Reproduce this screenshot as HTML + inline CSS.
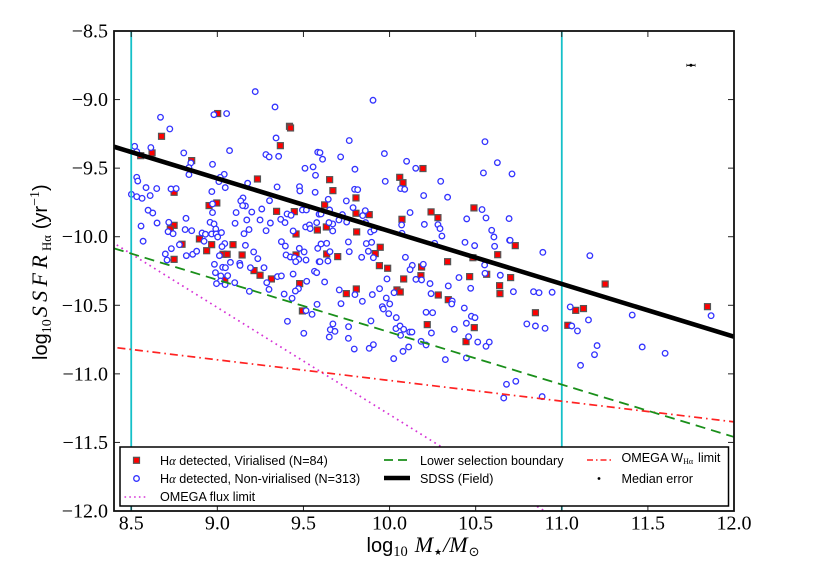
<!DOCTYPE html>
<html>
<head>
<meta charset="utf-8">
<style>
html,body{margin:0;padding:0;background:#fff;width:827px;height:582px;overflow:hidden}
svg{display:block;filter:blur(0.3px)}
.tick{font-family:"Liberation Serif",serif;font-size:20px;fill:#000}
.leg{font-family:"Liberation Sans",sans-serif;font-size:12.6px;fill:#000}
.sans{font-family:"Liberation Sans",sans-serif}
.ser{font-family:"Liberation Serif","DejaVu Serif",serif}
</style>
</head>
<body>
<svg id="chart" xmlns="http://www.w3.org/2000/svg" width="827" height="582" viewBox="0 0 827 582">
<g id="marks-squares"></g>
<g id="marks-circles"></g>
<g id="lines"></g>
<g id="axes"></g>
<g id="legend">
  <rect x="120" y="447" width="608.5" height="59" fill="#fff" stroke="#000" stroke-width="1.5"/>
  <g>
    <rect x="133.5" y="457.3" width="6" height="6" fill="#f00" stroke="#555" stroke-width="1.2"/>
    <text class="leg" x="160" y="465">H<tspan class="ser" font-style="italic">α</tspan> detected, Virialised (N=84)</text>
  </g>
  <g>
    <circle cx="136.5" cy="478.5" r="2.8" fill="#fff" stroke="#3333ff" stroke-width="1.3"/>
    <text class="leg" x="160" y="483">H<tspan class="ser" font-style="italic">α</tspan> detected, Non-virialised (N=313)</text>
  </g>
  <g>
    <line x1="124.5" y1="497" x2="148" y2="497" stroke="#d633d6" stroke-width="1.6" stroke-dasharray="1.6 3.2"/>
    <text class="leg" x="160" y="501">OMEGA flux limit</text>
  </g>
  <g>
    <line x1="384" y1="460" x2="410" y2="460" stroke="#1a8f1a" stroke-width="1.8" stroke-dasharray="9 5"/>
    <text class="leg" x="420" y="465">Lower selection boundary</text>
  </g>
  <g>
    <line x1="384" y1="478" x2="410" y2="478" stroke="#000" stroke-width="4.5"/>
    <text class="leg" x="420" y="483">SDSS (Field)</text>
  </g>
  <g>
    <line x1="587" y1="460" x2="611" y2="460" stroke="#f22" stroke-width="1.6" stroke-dasharray="6 3 1.5 3"/>
    <text class="leg" x="621.5" y="462">OMEGA W<tspan class="ser" font-size="8" dy="2">Hα</tspan><tspan dy="-2" dx="5">limit</tspan></text>
  </g>
  <g>
    <circle cx="599" cy="478.5" r="1.4" fill="#000"/>
    <text class="leg" x="621.5" y="483">Median error</text>
  </g>
</g>
<text x="366.5" y="552" font-size="20" class="sans">log<tspan class="ser" font-size="14.5" dy="4">10</tspan><tspan class="ser" font-size="22" font-style="italic" dy="-4" dx="7">M</tspan><tspan class="ser" font-size="9" dy="3" dx="1">★</tspan><tspan class="ser" font-size="22" font-style="italic" dy="-3" dx="1">/M</tspan><tspan font-family="DejaVu Sans" font-size="13" dy="4" dx="1">⊙</tspan></text>
<text transform="translate(47,360) rotate(-90)" font-size="20" class="sans">log<tspan class="ser" font-size="14" dy="4">10</tspan><tspan class="ser" font-size="22" font-style="italic" dy="-4" dx="2" letter-spacing="4.4">SSFR</tspan><tspan class="ser" font-size="12.5" dy="4">Hα</tspan><tspan dy="-4" dx="6">(yr</tspan><tspan class="ser" font-size="14" dy="-8">−1</tspan><tspan dy="8">)</tspan></text>
</svg>
<script>
const xTicks = [8.5, 9.0, 9.5, 10.0, 10.5, 11.0, 11.5, 12.0];
const xTickLabels = ["8.5", "9.0", "9.5", "10.0", "10.5", "11.0", "11.5", "12.0"];
const yTicks = [-8.5, -9.0, -9.5, -10.0, -10.5, -11.0, -11.5, -12.0];
const yTickLabels = ["−8.5", "−9.0", "−9.5", "−10.0", "−10.5", "−11.0", "−11.5", "−12.0"];
const clusterLimits = [8.5, 11.0];
const sdssMass = [8.4, 12.0];
const sdssSSFR = [-9.344, -10.729];
const boundaryMass = [8.4, 12.0];
const boundarySSFR = [-10.085, -11.46];
const fluxLimitMass = [8.416, 10.9];
const fluxLimitSSFR = [-10.06, -12.0];
const omegaLimitMass = [8.42, 12.0];
const omegaLimitSSFR = [-10.81, -11.35];
const errorMass = [11.75];
const errorSSFR = [-8.75];
const errorMassSize = [0.025];
const virialMass = [
8.676,9.002,9.419,9.425,9.366,8.555,8.621,8.851,9.233,8.749,
8.952,8.997,9.344,9.447,8.749,8.727,8.795,8.896,8.967,8.938,
9.033,9.057,9.091,9.144,8.749,9.213,9.248,9.314,9.043,9.478,
9.457,9.457,9.581,9.494,10.194,10.059,10.078,9.652,9.671,9.805,
9.623,10.490,10.241,10.281,9.805,9.882,10.072,9.633,9.809,9.946,
9.917,9.635,9.699,9.941,9.989,10.186,10.337,10.484,10.628,10.730,
10.182,10.082,10.465,10.564,10.703,10.639,10.641,9.807,9.749,10.043,
10.062,10.283,10.341,10.847,10.219,10.492,10.444,11.252,11.081,11.126,
11.035,11.846
];
const virialSSFR = [
-9.268,-9.102,-9.195,-9.207,-9.336,-9.409,-9.389,-9.445,-9.579,-9.676,
-9.773,-9.754,-9.815,-9.817,-9.917,-9.944,-10.055,-10.016,-10.058,-10.102,
-10.128,-10.128,-10.058,-10.133,-10.165,-10.247,-10.281,-10.308,-10.315,-10.342,
-9.980,-10.133,-9.951,-10.541,-9.503,-9.567,-9.606,-9.584,-9.664,-9.717,
-9.768,-9.790,-9.819,-9.861,-9.829,-9.839,-9.873,-9.929,-9.965,-10.077,
-10.123,-10.126,-10.145,-10.211,-10.230,-10.221,-10.182,-10.153,-10.131,-10.065,
-10.284,-10.308,-10.291,-10.274,-10.298,-10.357,-10.415,-10.381,-10.415,-10.388,
-10.403,-10.425,-10.459,-10.554,-10.641,-10.663,-10.765,-10.345,-10.537,-10.524,
-10.646,-10.510
];
const nonVirialMass = [
9.220,9.335,8.670,8.724,8.980,9.054,9.341,8.520,8.614,8.805,
9.071,9.282,9.301,9.356,9.583,8.532,8.972,8.846,8.835,8.835,
9.040,9.017,9.009,9.509,9.556,9.570,8.532,8.538,8.586,8.648,
8.731,8.761,9.046,9.176,9.347,9.477,9.479,9.568,8.968,8.501,
8.532,8.563,8.610,9.149,9.136,9.163,9.147,8.972,9.303,9.258,
9.200,9.109,8.598,8.625,8.972,8.818,9.405,9.428,9.494,9.517,
9.591,9.171,9.248,9.368,
8.557,8.650,8.718,8.714,8.743,8.569,8.813,8.851,8.958,8.981,
8.991,9.103,9.308,9.393,9.283,9.184,9.155,9.440,9.513,9.535,
9.539,9.577,8.911,8.931,8.967,8.993,9.024,9.002,8.923,8.780,
9.043,9.027,9.163,9.372,9.395,9.476,9.504,9.583,8.733,8.698,
8.708,8.820,8.857,8.880,9.012,9.211,9.235,9.399,9.424,9.448,
9.473,9.455,9.515,9.591,8.983,9.076,9.130,9.132,9.031,9.047,
9.192,9.271,8.989,9.020,9.060,9.018,8.995,9.045,9.101,9.287,
9.186,9.300,9.349,9.372,9.440,9.564,9.577,9.519,9.471,9.453,
9.388,9.434,9.579,9.515,9.550,9.407,9.502,
9.904,9.766,10.554,9.970,9.611,9.596,9.716,10.099,10.152,10.626,
10.545,10.711,9.799,9.975,10.297,9.797,9.815,10.064,10.088,10.198,
10.337,9.644,9.749,9.788,9.859,9.844,9.652,9.726,9.602,10.119,
10.537,10.448,10.560,10.694,
9.670,9.648,9.670,9.706,9.751,9.861,9.890,9.910,10.070,10.072,
10.202,10.281,10.293,10.304,10.262,10.438,10.494,10.593,10.606,10.610,
10.697,9.761,9.766,9.635,9.602,9.654,9.642,9.596,9.865,9.896,
9.877,9.838,9.906,10.092,10.132,10.119,10.196,10.552,10.554,10.643,
10.403,9.985,10.153,10.186,10.235,10.341,10.471,9.623,9.708,9.799,
9.942,9.900,10.026,10.241,9.718,9.842,9.981,10.001,9.958,9.964,
9.995,10.364,10.361,10.434,10.212,10.250,10.039,10.475,10.496,10.446,
9.892,9.762,9.671,9.656,9.683,9.650,9.761,9.795,9.882,9.906,
10.037,10.061,10.082,10.117,10.130,10.064,10.243,10.376,10.459,10.183,
10.212,10.111,10.078,10.024,10.324,10.446,10.512,10.560,10.579,
10.700,10.890,11.163,10.719,10.836,10.868,10.944,11.049,11.155,11.409,
11.867,10.797,10.847,10.903,11.058,11.091,11.205,11.190,11.467,11.600,
11.109,10.679,10.733,10.663,10.886
];
const nonVirialSSFR = [
-8.942,-9.054,-9.129,-9.214,-9.110,-9.102,-9.280,-9.341,-9.350,-9.389,
-9.372,-9.401,-9.418,-9.414,-9.384,-9.380,-9.472,-9.462,-9.496,-9.547,
-9.545,-9.567,-9.598,-9.501,-9.491,-9.552,-9.567,-9.594,-9.642,-9.649,
-9.652,-9.649,-9.642,-9.610,-9.637,-9.635,-9.666,-9.676,-9.671,-9.691,
-9.708,-9.720,-9.700,-9.717,-9.739,-9.776,-9.773,-9.761,-9.737,-9.798,
-9.820,-9.824,-9.807,-9.827,-9.824,-9.866,-9.834,-9.844,-9.805,-9.805,
-9.836,-9.878,-9.878,-9.873,
-9.922,-9.900,-9.895,-9.963,-9.978,-10.033,-9.948,-9.956,-9.895,-9.907,
-9.944,-9.902,-9.900,-9.897,-9.956,-9.948,-9.978,-9.958,-9.929,-9.914,
-9.941,-9.897,-9.973,-9.982,-9.980,-9.980,-9.970,-10.002,-10.033,-10.058,
-10.050,-10.072,-10.063,-10.036,-10.068,-10.085,-10.111,-10.085,-10.087,-10.126,
-10.170,-10.138,-10.128,-10.106,-10.138,-10.111,-10.160,-10.133,-10.148,-10.153,
-10.165,-10.182,-10.170,-10.182,-10.201,-10.187,-10.194,-10.209,-10.223,-10.226,
-10.226,-10.226,-10.262,-10.286,-10.284,-10.323,-10.342,-10.349,-10.335,-10.335,
-10.398,-10.384,-10.291,-10.286,-10.272,-10.252,-10.262,-10.325,-10.379,-10.396,
-10.418,-10.449,-10.493,-10.539,-10.566,-10.617,-10.704,
-9.005,-9.299,-9.307,-9.394,-9.435,-9.387,-9.418,-9.450,-9.501,-9.460,
-9.535,-9.542,-9.508,-9.596,-9.596,-9.654,-9.657,-9.649,-9.654,-9.700,
-9.712,-9.727,-9.739,-9.788,-9.810,-9.846,-9.805,-9.839,-9.834,-9.824,
-9.802,-9.870,-9.863,-9.868,
-9.907,-9.897,-9.958,-9.878,-9.893,-9.897,-9.965,-9.951,-9.914,-9.975,
-9.910,-9.912,-9.941,-9.995,-10.048,-10.041,-10.065,-9.953,-10.002,-10.070,
-10.026,-10.038,-10.109,-10.048,-10.053,-10.109,-10.177,-10.182,-10.050,-10.041,
-10.106,-10.150,-10.153,-10.150,-10.209,-10.240,-10.201,-10.206,-10.267,-10.281,
-10.298,-10.308,-10.311,-10.315,-10.342,-10.359,-10.376,-10.330,-10.388,-10.422,
-10.379,-10.422,-10.408,-10.415,-10.488,-10.471,-10.447,-10.490,-10.510,-10.527,
-10.561,-10.469,-10.490,-10.520,-10.551,-10.554,-10.590,-10.580,-10.590,-10.631,
-10.614,-10.656,-10.636,-10.678,-10.690,-10.731,-10.741,-10.819,-10.814,-10.787,
-10.670,-10.651,-10.675,-10.695,-10.695,-10.719,-10.702,-10.675,-10.729,-10.763,
-10.789,-10.804,-10.836,-10.889,-10.896,-10.884,-10.768,-10.799,-10.768,
-10.026,-10.114,-10.138,-10.401,-10.401,-10.408,-10.405,-10.512,-10.607,-10.571,
-10.576,-10.636,-10.651,-10.668,-10.651,-10.687,-10.794,-10.860,-10.804,-10.850,
-10.938,-11.076,-11.054,-11.176,-11.166
];

const NS = "http://www.w3.org/2000/svg";
const plotLeft = 114, plotRight = 734, plotTop = 31, plotBottom = 511;
const xMin = 8.4, xMax = 12.0, yMax = -8.5, yMin = -12.0;
function sx(v){ return plotLeft + (v - xMin) / (xMax - xMin) * (plotRight - plotLeft); }
function sy(v){ return plotTop + (yMax - v) / (yMax - yMin) * (plotBottom - plotTop); }
function make(tag, attrs, parent){
  const el = document.createElementNS(NS, tag);
  for (const k in attrs) el.setAttribute(k, attrs[k]);
  parent.appendChild(el);
  return el;
}
const gSquares = document.getElementById("marks-squares");
const gCircles = document.getElementById("marks-circles");
const gLines = document.getElementById("lines");
const gAxes = document.getElementById("axes");

virialMass.forEach(function(m, i){
  const el = make("rect", {x: sx(m) - 3, y: sy(virialSSFR[i]) - 3, width: 6, height: 6, fill: "#f00", stroke: "#555", "stroke-width": 1.2}, gSquares);
  
  
});
nonVirialMass.forEach(function(m, i){
  const el = make("circle", {cx: sx(m), cy: sy(nonVirialSSFR[i]), r: 2.8, fill: "#fff", stroke: "#3333ff", "stroke-width": 1.3}, gCircles);
  
  
});

clusterLimits.forEach(function(v){
  const el = make("line", {x1: sx(v), x2: sx(v), y1: plotTop, y2: plotBottom, stroke: "#14c0c8", "stroke-width": 1.8}, gLines);
  
  
});
function series(xs, ys, attrs, name){
  const pts = xs.map(function(x, i){ return sx(x) + "," + sy(ys[i]); }).join(" ");
  const el = make("polyline", Object.assign({points: pts, fill: "none"}, attrs), gLines);
  
  
}
series(fluxLimitMass, fluxLimitSSFR, {stroke: "#d633d6", "stroke-width": 1.7, "stroke-dasharray": "1.7 3.8"}, "omega-flux-limit-line");
series(omegaLimitMass, omegaLimitSSFR, {stroke: "#f22", "stroke-width": 1.7, "stroke-dasharray": "8 4 1.6 4"}, "omega-w-limit-line");
series(boundaryMass, boundarySSFR, {stroke: "#1a8f1a", "stroke-width": 1.8, "stroke-dasharray": "10 6"}, "lower-selection-boundary-line");
series(sdssMass, sdssSSFR, {stroke: "#000", "stroke-width": 4.6}, "sdss-field-line");

errorMass.forEach(function(m, i){
  const g = make("g", {}, gLines);
  
  
  const cx = sx(m), cy = sy(errorSSFR[i]), dx = sx(m + errorMassSize[i]) - cx;
  make("line", {x1: cx - dx, x2: cx + dx, y1: cy, y2: cy, stroke: "#000", "stroke-width": 1.2}, g);
  make("line", {x1: cx - dx, x2: cx - dx, y1: cy - 1.5, y2: cy + 1.5, stroke: "#555", "stroke-width": 0.8}, g);
  make("line", {x1: cx + dx, x2: cx + dx, y1: cy - 1.5, y2: cy + 1.5, stroke: "#555", "stroke-width": 0.8}, g);
  make("circle", {cx: cx, cy: cy, r: 1.5, fill: "#000"}, g);
});

xTicks.forEach(function(v, i){
  const x = sx(v);
  const t1 = make("line", {x1: x, x2: x, y1: plotBottom, y2: plotBottom - 6, stroke: "#222", "stroke-width": 1}, gAxes);
  
  
  const t2 = make("line", {x1: x, x2: x, y1: plotTop, y2: plotTop + 6, stroke: "#222", "stroke-width": 1}, gAxes);
  
  
  const lab = make("text", {x: x, y: 529.5, "text-anchor": "middle", class: "tick"}, gAxes);
  lab.textContent = xTickLabels[i];
  
  
});
yTicks.forEach(function(v, i){
  const y = sy(v);
  const t1 = make("line", {x1: plotLeft, x2: plotLeft + 6, y1: y, y2: y, stroke: "#222", "stroke-width": 1}, gAxes);
  
  
  const t2 = make("line", {x1: plotRight, x2: plotRight - 6, y1: y, y2: y, stroke: "#222", "stroke-width": 1}, gAxes);
  
  
  const lab = make("text", {x: 108, y: y + 6.5, "text-anchor": "end", class: "tick"}, gAxes);
  lab.textContent = yTickLabels[i];
  
  
});
const frame = make("rect", {x: plotLeft, y: plotTop, width: plotRight - plotLeft, height: plotBottom - plotTop, fill: "none", stroke: "#111", "stroke-width": 1.8}, gAxes);


</script>
</body>
</html>
